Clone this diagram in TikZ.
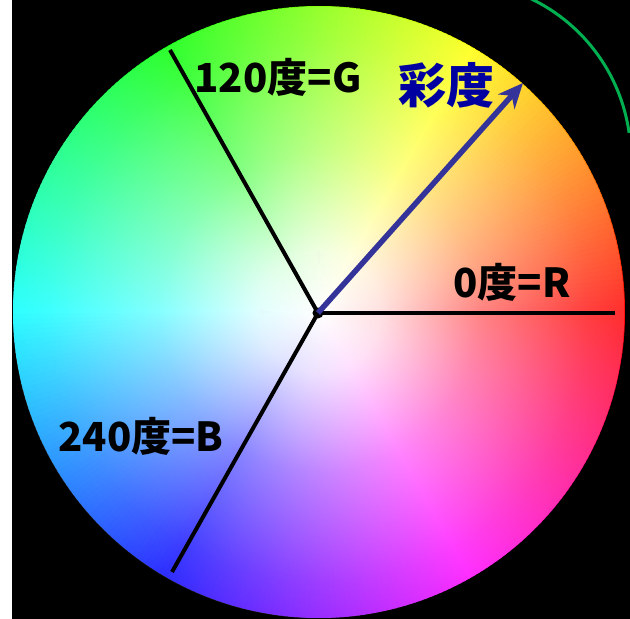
\documentclass[tikz,border=0pt]{standalone}
\usepackage{fontspec}
\newfontfamily\cjk{Noto Sans CJK JP}
\usetikzlibrary{arrows.meta,fadings}
\pgfdeclareradialshading{whitefadeshade}{\pgfpointorigin}{color(0bp)=(black!0); color(5bp)=(black!12); color(13bp)=(black!48); color(22bp)=(black!76); color(33bp)=(black!100); color(50bp)=(black!100)}
\pgfdeclarefading{whitefade}{\pgfuseshading{whitefadeshade}}
\definecolor{arrowblue}{RGB}{51,51,153}
\definecolor{labelnavy}{RGB}{0,0,160}
\definecolor{arcgreen}{RGB}{0,176,80}
\tikzset{
  lbl/.style={font=\cjk\bfseries\fontsize{40}{40}\selectfont, text=black, inner sep=0pt},
  biglbl/.style={font=\cjk\bfseries\fontsize{48}{48}\selectfont, text=labelnavy, inner sep=0pt},
  axisline/.style={line width=4pt, black},
}
\begin{document}
\begin{tikzpicture}[x=1pt,y=1pt]
\useasboundingbox (-319,-307) rectangle (311,312);
\fill[white] (-319,-307) rectangle (311,312);
\fill[black] (-307,-307) rectangle (311,312);
\begin{scope}
\clip (-319,-307) rectangle (311,312);
% hue wheel
\foreach \i in {0,...,359}{
  \definecolor{hc}{Hsb}{\i,1,1}
  \fill[hc] (0,0) -- (\i-0.7:306) arc[start angle=\i-0.7, end angle=\i+0.7, radius=306] -- cycle;
}
\fill[white, path fading=whitefade, fit fading=true] (0,0) circle (306);
% green arc
\coordinate (ga) at (206,316);
\draw[arcgreen, line width=3pt] (ga) arc[start angle=66.5, end angle=8, radius=176];
\end{scope}
% axes
\node[circle, fill=black, inner sep=0pt, minimum size=11pt] (o) at (-1,-1) {};
\coordinate (g) at (-149,262);
\coordinate (b) at (-147,-260);
\coordinate (r) at (296,-1);
\coordinate (tip) at (204,229);
\draw[axisline] (o.center) -- (g);
\draw[axisline] (o.center) -- (b);
\draw[axisline] (o.center) -- (r);
\draw[arrowblue, line width=5.5pt, -{Stealth[length=25pt, width=22pt, inset=8pt]}] (o.center) -- (tip);
% labels
\node[lbl] (lg) at (-41,235) {120度=G};
\node[lbl] (lr) at (193,30) {0度=R};
\node[lbl] (lb) at (-178,-124) {240度=B};
\node[biglbl] (ls) at (128,227) {彩度};
\end{tikzpicture}
\end{document}
